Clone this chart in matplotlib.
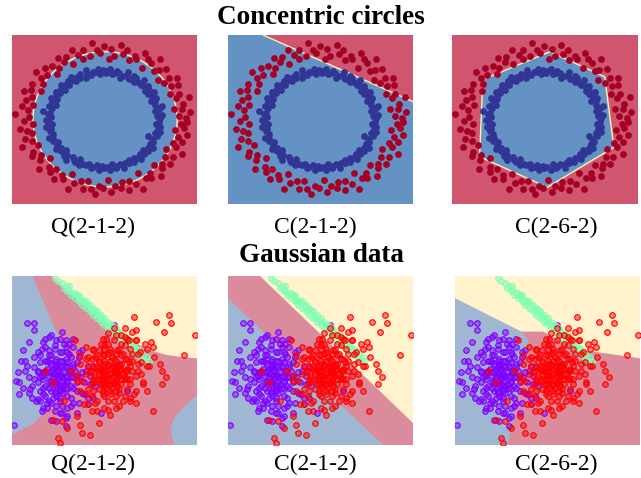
import matplotlib
matplotlib.use("Agg")
import matplotlib.pyplot as plt
import numpy as np
from matplotlib.colors import to_rgba
from matplotlib.patches import Ellipse, Polygon

# ---- concentric circles data (angle in degrees, radius in % of ring radius) ----
inner_angle = [2, 4, 5, 8, 11, 13, 15, 18, 22, 24, 25, 29, 32, 34, 37, 38, 41, 44, 47, 49,
               52, 55, 56, 59, 62, 65, 66, 69, 71, 74, 77, 78, 81, 84, 87, 88, 91, 94, 96, 99,
               101, 104, 107, 108, 111, 114, 117, 119, 122, 124, 127, 129, 131, 134, 137, 139, 142, 145, 147, 150,
               153, 155, 158, 161, 164, 166, 171, 172, 174, 177, 181, 184, 186, 189, 192, 194, 198, 201, 203, 206,
               209, 212, 215, 217, 220, 223, 226, 228, 231, 234, 237, 240, 242, 245, 248, 251, 254, 257, 259, 262,
               265, 268, 270, 273, 276, 279, 282, 284, 287, 290, 293, 296, 298, 301, 304, 307, 309, 312, 315, 318,
               321, 323, 326, 329, 332, 335, 337, 340, 343, 346, 348, 351, 354, 357]
inner_radius = [101, 96, 105, 99, 94, 103, 108, 97, 100, 92, 104, 99, 106, 96, 101, 95, 105, 100, 97, 109,
                99, 94, 103, 105, 96, 100, 108, 97, 91, 101, 104, 99, 95, 106, 100, 97, 103, 94, 105, 99,
                101, 96, 108, 100, 92, 104, 97, 101, 95, 106, 99, 103, 96, 100, 105, 94, 101, 97, 104, 99,
                95, 105, 100, 91, 103, 97, 112, 99, 101, 96, 104, 100, 94, 105, 97, 101, 96, 106, 99, 103,
                95, 100, 105, 97, 101, 94, 104, 99, 108, 96, 100, 103, 92, 105, 99, 101, 96, 104, 100, 95,
                106, 97, 101, 99, 105, 94, 103, 100, 96, 108, 99, 101, 95, 104, 97, 100, 105, 96, 101, 94,
                103, 99, 106, 97, 100, 95, 87, 101, 96, 105, 99, 103, 95, 100]
outer_angle = [1, 3, 6, 9, 10, 13, 17, 19, 21, 24, 28, 30, 33, 35, 36, 40, 43, 46, 48, 51,
               54, 57, 58, 62, 65, 67, 70, 74, 76, 79, 82, 85, 86, 90, 93, 95, 98, 101, 105, 107,
               109, 112, 116, 118, 121, 123, 127, 130, 132, 135, 138, 141, 143, 146, 150, 152, 155, 158, 160, 164,
               167, 169, 172, 176, 178, 181, 184, 187, 190, 192, 196, 199, 201, 204, 208, 210, 213, 216, 219, 221,
               225, 228, 230, 234, 237, 239, 243, 246, 248, 252, 255, 257, 261, 264, 266, 269, 273, 275, 278, 282,
               284, 287, 290, 293, 296, 299, 302, 305, 307, 311, 314, 316, 319, 322, 325, 328, 331, 333, 336, 339,
               342, 345, 348, 350, 353, 356, 358]
outer_radius = [105, 95, 110, 100, 90, 103, 113, 97, 102, 92, 106, 98, 111, 94, 103, 89, 108, 100, 95, 114,
                102, 90, 105, 110, 97, 100, 92, 106, 98, 111, 94, 103, 89, 108, 97, 102, 113, 95, 105, 92,
                100, 110, 90, 103, 98, 108, 95, 102, 89, 106, 97, 111, 100, 94, 105, 90, 102, 110, 97, 103,
                92, 106, 98, 113, 95, 102, 90, 108, 100, 94, 105, 97, 111, 92, 102, 106, 95, 100, 89, 110,
                98, 103, 94, 108, 97, 102, 90, 111, 100, 95, 105, 92, 103, 110, 97, 100, 89, 106, 98, 102,
                94, 108, 95, 103, 113, 90, 100, 105, 97, 110, 92, 102, 98, 106, 95, 103, 90, 111, 100, 94,
                105, 97, 108, 92, 102, 98, 106]
ring_center = (49.7, 50.0)
inner_size = (30.0, 28.5)
outer_size = (42.5, 40.5)

# decision boundaries of the circle panels (panel coords 0-100)
quad_boundary = (50.3, 50.1, 78.0, 80.0)          # centre x, centre y, width, height
linear_boundary = [(18.9, 100), (100, 100), (100, 60.6)]
hexagon_boundary = [(52.7, 90.1), (82.1, 75.3), (87.0, 33.5), (51.2, 9.9), (14.8, 28.0), (16.6, 73.7)]

# ---- gaussian data (panel coords 0-100) ----
purple_xy = [(24, 41), (20, 37), (29, 47), (15, 32), (33, 40), (26, 55), (21, 25), (12, 46), (30, 29), (38, 43),
             (18, 50), (27, 35), (23, 59), (17, 22), (32, 52), (35, 32), (9, 40), (26, 19), (29, 62), (21, 44),
             (14, 55), (24, 29), (41, 47), (20, 64), (27, 23), (6, 34), (30, 40), (33, 58), (23, 50), (17, 43),
             (26, 35), (36, 25), (11, 28), (29, 16), (18, 58), (24, 47), (32, 44), (21, 32), (15, 49), (27, 67),
             (39, 37), (20, 43), (8, 47), (26, 28), (30, 55), (23, 38), (35, 49), (14, 37), (42, 41), (24, 62),
             (18, 29), (29, 34), (21, 53), (3, 43), (33, 25), (27, 46), (17, 61), (38, 31), (26, 41), (12, 52),
             (23, 20), (30, 49), (20, 26), (45, 35), (24, 37), (15, 40), (32, 35), (29, 58), (9, 31), (21, 65),
             (35, 41), (26, 50), (18, 35), (41, 28), (27, 40), (5, 50), (24, 23), (33, 46), (17, 34), (30, 22),
             (23, 46), (14, 43), (36, 52), (20, 49), (29, 41), (26, 32), (11, 35), (32, 28), (21, 38), (44, 46),
             (18, 44), (27, 55), (24, 14), (38, 56), (15, 26), (30, 37), (2, 38), (23, 32), (33, 34), (20, 53),
             (22, 40), (25, 43), (27, 38), (20, 41), (23, 36), (26, 47), (19, 45), (28, 43), (24, 35), (21, 48),
             (30, 38), (17, 39), (25, 39), (23, 42), (27, 50), (20, 34), (29, 46), (22, 45), (26, 33), (18, 43),
             (31, 44), (24, 51), (16, 41), (28, 36), (21, 36), (25, 45), (23, 31), (19, 50), (32, 40), (26, 42),
             (14, 44), (29, 51), (22, 28), (27, 31), (35, 37), (12, 39), (24, 48), (20, 56), (31, 54), (17, 30),
             (34, 44), (10, 33), (26, 26), (37, 40), (15, 53), (23, 57), (30, 33), (28, 60), (19, 25), (33, 48),
             (1, 12), (8, 72), (12, 72), (12, 68), (9, 61), (18, 63), (6, 56), (7, 50), (4, 37), (4, 30),
             (13, 26), (16, 20), (21, 15), (30, 17), (35, 19), (29, 11), (41, 24), (48, 19), (62, 32), (56, 47),
             (55, 71), (40, 44), (42, 36), (39, 30), (44, 28), (31, 60), (33, 63), (26, 63), (16, 57), (36, 55),
             (14, 27), (19, 22), (27, 19), (32, 23), (7, 44)]
red_xy = [(53, 42), (49, 36), (58, 48), (46, 45), (62, 39), (52, 54), (56, 32), (44, 39), (61, 51), (50, 29),
          (55, 62), (47, 50), (59, 36), (41, 33), (64, 47), (52, 21), (58, 57), (49, 44), (67, 41), (43, 51),
          (55, 36), (61, 29), (50, 59), (46, 26), (56, 45), (65, 54), (40, 42), (53, 50), (59, 65), (47, 33),
          (52, 38), (62, 33), (43, 29), (56, 54), (49, 63), (68, 48), (44, 47), (55, 26), (58, 41), (50, 48),
          (38, 38), (61, 59), (53, 32), (47, 56), (64, 36), (41, 47), (59, 45), (52, 66), (46, 20), (56, 38),
          (67, 32), (49, 53), (55, 44), (43, 36), (62, 63), (50, 41), (58, 23), (40, 51), (53, 57), (61, 44),
          (65, 50), (46, 39), (56, 29), (52, 47), (70, 42), (44, 57), (59, 53), (49, 30), (55, 69), (41, 24),
          (64, 57), (53, 36), (47, 44), (58, 33), (67, 62), (50, 53), (44, 32), (61, 39), (56, 65), (37, 48),
          (71, 36), (52, 26), (59, 60), (49, 39), (55, 51), (43, 44), (62, 45), (53, 18), (46, 53), (68, 54),
          (35, 41), (58, 47), (50, 35), (64, 26), (40, 30), (56, 42), (61, 69), (47, 38), (52, 60), (73, 47),
          (54, 40), (51, 44), (57, 42), (49, 41), (55, 47), (52, 36), (58, 45), (50, 50), (56, 38), (53, 45),
          (60, 42), (47, 42), (54, 52), (51, 34), (59, 48), (45, 40), (57, 35), (53, 55), (49, 46), (62, 44),
          (55, 37), (50, 43), (56, 50), (48, 36), (61, 40), (52, 48), (46, 46), (58, 31), (54, 46), (44, 37),
          (63, 49), (51, 39), (57, 56), (49, 32), (55, 41), (60, 54), (47, 49), (53, 30), (65, 44), (42, 43),
          (56, 44), (50, 57), (59, 39), (45, 52), (54, 34), (62, 51), (48, 45), (57, 47), (52, 41), (64, 39),
          (66, 76), (78, 73), (85, 77), (86, 72), (82, 67), (99, 65), (93, 53), (65, 67), (67, 68), (67, 62),
          (75, 61), (73, 57), (77, 52), (80, 48), (81, 44), (83, 40), (81, 36), (76, 20), (71, 37), (73, 32),
          (66, 30), (67, 25), (70, 49), (72, 60), (69, 55), (63, 62), (61, 64), (76, 58), (74, 47), (68, 44),
          (25, 4), (26, 1), (30, 10), (37, 12), (38, 7), (42, 6), (47, 13), (22, 15), (27, 14), (35, 17),
          (18, 44), (22, 37), (28, 26), (37, 32), (35, 38), (32, 44), (37, 53), (34, 62), (40, 58), (39, 24),
          (43, 20), (45, 25), (50, 22), (56, 22), (60, 26), (64, 28), (41, 52), (44, 56), (48, 60), (51, 63)]
green_xy = [(23, 99), (25, 97), (27, 96), (28, 93), (29, 94), (30, 91), (31, 92), (31, 94), (32, 89), (33, 90),
            (34, 87), (34, 90), (35, 88), (36, 85), (36, 89), (37, 86), (38, 83), (38, 86), (39, 84), (40, 81),
            (40, 85), (41, 82), (42, 79), (42, 83), (43, 80), (44, 77), (44, 81), (45, 78), (46, 75), (46, 79),
            (47, 76), (48, 73), (48, 77), (49, 74), (50, 71), (50, 75), (51, 72), (52, 69), (52, 73), (53, 70),
            (54, 67), (54, 71), (55, 68), (56, 65), (56, 69), (57, 66), (58, 63), (58, 67), (59, 64), (60, 61),
            (60, 65), (61, 62), (62, 59), (62, 63), (63, 60), (64, 57), (64, 61), (65, 58), (66, 55), (66, 59),
            (67, 56), (68, 53), (68, 57), (69, 54), (70, 51), (71, 53), (72, 50), (73, 52), (74, 50), (45, 80),
            (39, 85), (53, 71), (57, 67), (63, 61), (35, 89), (48, 75), (59, 65), (65, 59)]

# decision regions of the gaussian panels
q_blue = [[(0, 100), (11, 100), (16.5, 86), (22.3, 71), (27, 61), (30.5, 53), (32, 47), (31.5, 41), (29, 35),
           (22.4, 24.7), (11.7, 12.8), (0, 5.9)],
          [(88.1, 0), (86.3, 4.9), (85.8, 10.8), (88.1, 16.7), (93, 22.5), (97.1, 26.6), (100, 29), (100, 0)]]
q_yellow = [(21.5, 100), (27.8, 93.7), (35, 86.8), (42.2, 80.3), (49.4, 74), (56.6, 68), (65.5, 61.1),
            (74.5, 56.2), (83.5, 53.3), (92.5, 51.9), (100, 51.3), (100, 100)]
c1_blue = [[(0, 0), (0, 86.8), (83.8, 0)]]
c1_yellow = [(17.1, 100), (100, 100), (100, 12.8)]
c6_blue = [[(0, 0), (0, 86.8), (35.9, 67.1), (39.5, 62.1), (28.7, 0)]]
c6_yellow = [(0, 100), (0, 86.8), (35.9, 67.1), (47.6, 67.1), (66.4, 56.6), (100, 51.3), (100, 100)]

labels = ["Q(2-1-2)", "C(2-1-2)", "C(2-6-2)"]

RED_BG, BLUE_BG, EDGE = "#D0556E", "#6592C4", "#F6F2B4"
PINK, LBLUE, CREAM = "#DB8C9C", "#A0B7D4", "#FFF2CC"
DARK_RED, DARK_BLUE = "#A50026", "#313695"
PURPLE, GREEN, RED = "#8000FF", "#80FFB4", "#FF0000"

W, H = 641, 478
fig = plt.figure(figsize=(W / 100, H / 100), dpi=100)
plt.rcParams["font.family"] = ["Liberation Serif", "DejaVu Serif"]


def make_ax(x0, y0, x1, y1):
    ax = fig.add_axes([x0 / W, 1 - y1 / H, (x1 - x0) / W, (y1 - y0) / H])
    ax.set_xlim(0, 100)
    ax.set_ylim(0, 100)
    ax.set_axis_off()
    return ax


def ring(angle, radius, size):
    a = np.radians(angle)
    r = np.array(radius) / 100.0
    return ring_center[0] + size[0] * r * np.cos(a), ring_center[1] + size[1] * r * np.sin(a)


ox, oy = ring(outer_angle, outer_radius, outer_size)
ix, iy = ring(inner_angle, inner_radius, inner_size)

# top row: concentric circles
row1 = [(12, 35, 197, 204), (228, 35, 413, 204), (452, 35, 638, 204)]
for k, box in enumerate(row1):
    ax = make_ax(*box)
    ax.add_patch(plt.Rectangle((0, 0), 100, 100, color=RED_BG if k != 1 else BLUE_BG, zorder=0))
    if k == 0:
        cx, cy, w, h = quad_boundary
        ax.add_patch(Ellipse((cx, cy), w, h, facecolor=BLUE_BG, edgecolor=EDGE, lw=1, zorder=1))
    elif k == 1:
        ax.add_patch(Polygon(linear_boundary, closed=True, facecolor=RED_BG, edgecolor="none", zorder=1))
        ax.plot([linear_boundary[0][0], linear_boundary[2][0]], [linear_boundary[0][1], linear_boundary[2][1]],
                color=EDGE, lw=1, zorder=2)
    else:
        ax.add_patch(Polygon(hexagon_boundary, closed=True, facecolor=BLUE_BG, edgecolor=EDGE, lw=1, zorder=1))
    ax.scatter(ox, oy, s=24, color=DARK_RED, linewidths=0, zorder=3)
    ax.scatter(ix, iy, s=24, color=DARK_BLUE, linewidths=0, zorder=3)

# bottom row: gaussian data
row2 = [(12, 276, 197, 445), (228, 276, 413, 445), (455, 276, 640, 445)]
regions = [(q_blue, q_yellow), (c1_blue, c1_yellow), (c6_blue, c6_yellow)]
for box, (blues, yellow) in zip(row2, regions):
    ax = make_ax(*box)
    ax.add_patch(plt.Rectangle((0, 0), 100, 100, color=PINK, zorder=0))
    for poly in blues:
        ax.add_patch(Polygon(poly, closed=True, facecolor=LBLUE, edgecolor="none", zorder=1))
    ax.add_patch(Polygon(yellow, closed=True, facecolor=CREAM, edgecolor="none", zorder=1))
    for pts, col in [(purple_xy, PURPLE), (green_xy, GREEN), (red_xy, RED)]:
        px, py = zip(*pts)
        ax.scatter(px, py, s=16, facecolors=[to_rgba(col, 0.45)], edgecolors=[col], linewidths=0.8, zorder=3)

# titles and labels
fig.text(321 / W, 1 - 17 / H, "Concentric circles", ha="center", va="center", fontsize=19.5, fontweight="bold")
fig.text(321 / W, 1 - 256 / H, "Gaussian data", ha="center", va="center", fontsize=19.5, fontweight="bold")
for xc, lab in zip([93, 315, 556], labels):
    fig.text(xc / W, 1 - 227 / H, lab, ha="center", va="center", fontsize=17)
    fig.text(xc / W, 1 - 464 / H, lab, ha="center", va="center", fontsize=17)

fig.savefig("out.png", dpi=100)
